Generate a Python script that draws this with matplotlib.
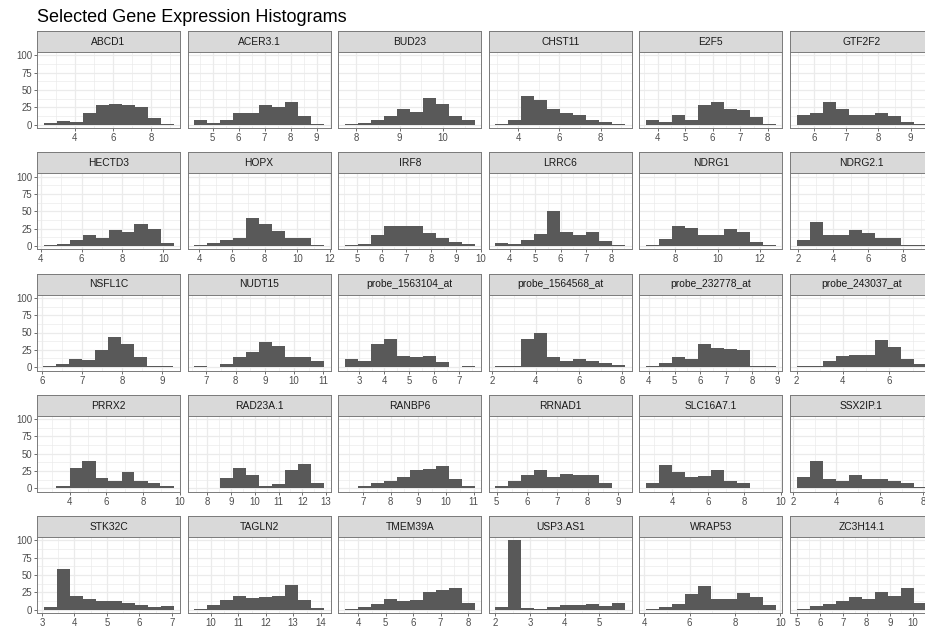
from pathlib import Path
import numpy as np
import matplotlib
matplotlib.use("Agg")
import matplotlib.pyplot as plt
from matplotlib.ticker import MultipleLocator, AutoMinorLocator

OUT_FIG = Path("out.png")
TITLE = "Selected Gene Expression Histograms"

GENES = [
    "ABCD1", "ACER3.1", "BUD23", "CHST11", "E2F5", "GTF2F2",
    "HECTD3", "HOPX", "IRF8", "LRRC6", "NDRG1", "NDRG2.1",
    "NSFL1C", "NUDT15", "probe_1563104_at", "probe_1564568_at", "probe_232778_at", "probe_243037_at",
    "PRRX2", "RAD23A.1", "RANBP6", "RRNAD1", "SLC16A7.1", "SSX2IP.1",
    "STK32C", "TAGLN2", "TMEM39A", "USP3.AS1", "WRAP53", "ZC3H14.1",
]

# outer edges of the 10 histogram bins for each gene
BIN_LOW = [
    2.36, 4.29, 7.73, 2.90, 3.57, 5.46,
    4.14, 3.69, 4.51, 3.43, 6.61, 1.90,
    6.04, 6.58, 2.41, 2.15, 3.89, 2.00,
    2.56, 7.44, 6.34, 4.96, 2.55, 2.17,
    3.05, 9.40, 3.51, 2.00, 4.07, 4.98,
]
BIN_HIGH = [
    9.18, 9.29, 10.73, 9.19, 8.30, 9.49,
    10.50, 11.63, 9.76, 8.54, 12.75, 9.33,
    9.28, 11.03, 7.62, 8.13, 8.93, 7.60,
    9.66, 12.92, 11.04, 9.24, 9.74, 8.15,
    7.05, 14.13, 8.24, 5.75, 9.80, 10.58,
]

COUNTS = [
    [2, 5, 4, 16, 28, 30, 28, 25, 10, 1],
    [7, 2, 7, 16, 16, 29, 26, 33, 12, 1],
    [1, 2, 7, 12, 23, 18, 38, 30, 13, 7],
    [1, 7, 41, 36, 23, 16, 14, 7, 3, 1],
    [7, 4, 14, 7, 28, 32, 23, 21, 11, 1],
    [14, 17, 33, 22, 14, 14, 17, 12, 3, 1],
    [1, 2, 8, 15, 12, 23, 20, 32, 25, 4],
    [1, 4, 8, 11, 40, 32, 22, 12, 12, 1],
    [1, 3, 15, 29, 28, 29, 18, 11, 5, 3],
    [4, 2, 9, 17, 50, 20, 15, 20, 7, 1],
    [1, 10, 28, 26, 15, 15, 24, 20, 5, 1],
    [9, 35, 16, 16, 23, 18, 12, 12, 1, 1],
    [2, 5, 12, 10, 24, 44, 34, 15, 1, 1],
    [1, 0, 4, 14, 22, 36, 31, 15, 15, 9],
    [11, 9, 34, 41, 16, 14, 16, 7, 0, 1],
    [1, 2, 41, 50, 15, 9, 11, 9, 6, 3],
    [1, 6, 15, 12, 33, 28, 26, 24, 1, 1],
    [2, 1, 9, 16, 18, 17, 39, 29, 12, 4],
    [1, 3, 29, 39, 15, 11, 24, 11, 7, 4],
    [1, 0, 15, 29, 19, 3, 6, 27, 35, 7],
    [1, 3, 7, 11, 16, 26, 28, 32, 14, 4],
    [4, 11, 19, 27, 16, 20, 19, 19, 7, 1],
    [7, 33, 23, 16, 18, 26, 10, 8, 0, 1],
    [16, 39, 13, 11, 19, 13, 13, 11, 8, 2],
    [4, 58, 20, 15, 12, 13, 10, 7, 3, 5],
    [1, 6, 14, 20, 16, 18, 20, 36, 14, 2],
    [1, 4, 8, 15, 12, 14, 25, 28, 31, 9],
    [4, 100, 2, 1, 4, 7, 6, 8, 5, 9],
    [1, 3, 8, 22, 34, 15, 15, 24, 18, 6],
    [1, 5, 8, 13, 18, 15, 26, 20, 31, 10],
]

X_STEP = [
    2, 1, 1, 2, 1, 1,
    2, 2, 1, 1, 2, 2,
    1, 1, 1, 2, 1, 2,
    2, 1, 1, 1, 2, 2,
    1, 1, 1, 1, 2, 1,
]
Y_BREAKS = [0, 25, 50, 75, 100]

N_COLS = 6
FIG_W, FIG_H = 925, 630

BAR_COLOR = "#595959"
GRID_COLOR = "#EBEBEB"
BORDER_COLOR = "#7A7A7A"
STRIP_FILL = "#D9D9D9"
TEXT_COLOR = "#4D4D4D"

plt.rcParams["font.family"] = ["Liberation Sans", "DejaVu Sans"]


def px_box(left, top, width, height):
    """pixel box (from top-left) -> figure fraction rect"""
    return [left / FIG_W, 1 - (top + height) / FIG_H, width / FIG_W, height / FIG_H]


def style_panel(ax, show_y):
    ax.set_facecolor("white")
    for sp in ax.spines.values():
        sp.set_color(BORDER_COLOR)
        sp.set_linewidth(0.7)
    ax.set_axisbelow(True)
    ax.xaxis.set_minor_locator(AutoMinorLocator(2))
    ax.set_yticks(Y_BREAKS)
    ax.yaxis.set_minor_locator(AutoMinorLocator(2))
    ax.grid(which="major", color=GRID_COLOR, linewidth=0.9)
    ax.grid(which="minor", color=GRID_COLOR, linewidth=0.5)
    ax.tick_params(which="major", length=2.0, width=0.5, color="#333333",
                   labelsize=6.9, labelcolor=TEXT_COLOR, pad=1.6)
    ax.tick_params(which="minor", length=0)
    if not show_y:
        ax.tick_params(axis="y", which="both", left=False, labelleft=False)


def add_strip(fig, left, top, width, height, label):
    sax = fig.add_axes(px_box(left, top, width, height))
    sax.set_facecolor(STRIP_FILL)
    sax.set_xticks([])
    sax.set_yticks([])
    for sp in sax.spines.values():
        sp.set_color(BORDER_COLOR)
        sp.set_linewidth(0.7)
    sax.text(0.5, 0.48, label, ha="center", va="center", fontsize=7.4,
             color="#1A1A1A", transform=sax.transAxes)


def save_histograms():
    fig = plt.figure(figsize=(FIG_W / 100, FIG_H / 100), dpi=100)
    fig.text(37 / FIG_W, 1 - 22.5 / FIG_H, TITLE, fontsize=13, color="black",
             ha="left", va="baseline")

    col_left, col_pitch, panel_w = 37, 150.6, 143
    row_top, row_pitch = 31, 121.25
    strip_h, plot_h = 21, 76
    y_max = max(max(c) for c in COUNTS)

    for i, gene in enumerate(GENES):
        r, c = divmod(i, N_COLS)
        left = col_left + c * col_pitch
        top = row_top + r * row_pitch

        add_strip(fig, left, top, panel_w, strip_h, gene)
        ax = fig.add_axes(px_box(left, top + strip_h, panel_w, plot_h))

        edges = np.linspace(BIN_LOW[i], BIN_HIGH[i], len(COUNTS[i]) + 1)
        # one filled outline per histogram so adjacent bins don't leave seams
        ax.stairs(COUNTS[i], edges, fill=True, color=BAR_COLOR, linewidth=0)

        span = BIN_HIGH[i] - BIN_LOW[i]
        ax.set_xlim(BIN_LOW[i] - 0.05 * span, BIN_HIGH[i] + 0.05 * span)
        ax.set_ylim(-0.05 * y_max, 1.05 * y_max)
        ax.xaxis.set_major_locator(MultipleLocator(X_STEP[i]))
        ax.xaxis.set_major_formatter(plt.FuncFormatter(lambda v, _: f"{v:g}"))
        style_panel(ax, show_y=(c == 0))

    fig.savefig(OUT_FIG, dpi=100)
    plt.close(fig)
    print(f"Saved figure -> {OUT_FIG}")


def main() -> int:
    save_histograms()
    return 0


if __name__ == "__main__":
    raise SystemExit(main())
